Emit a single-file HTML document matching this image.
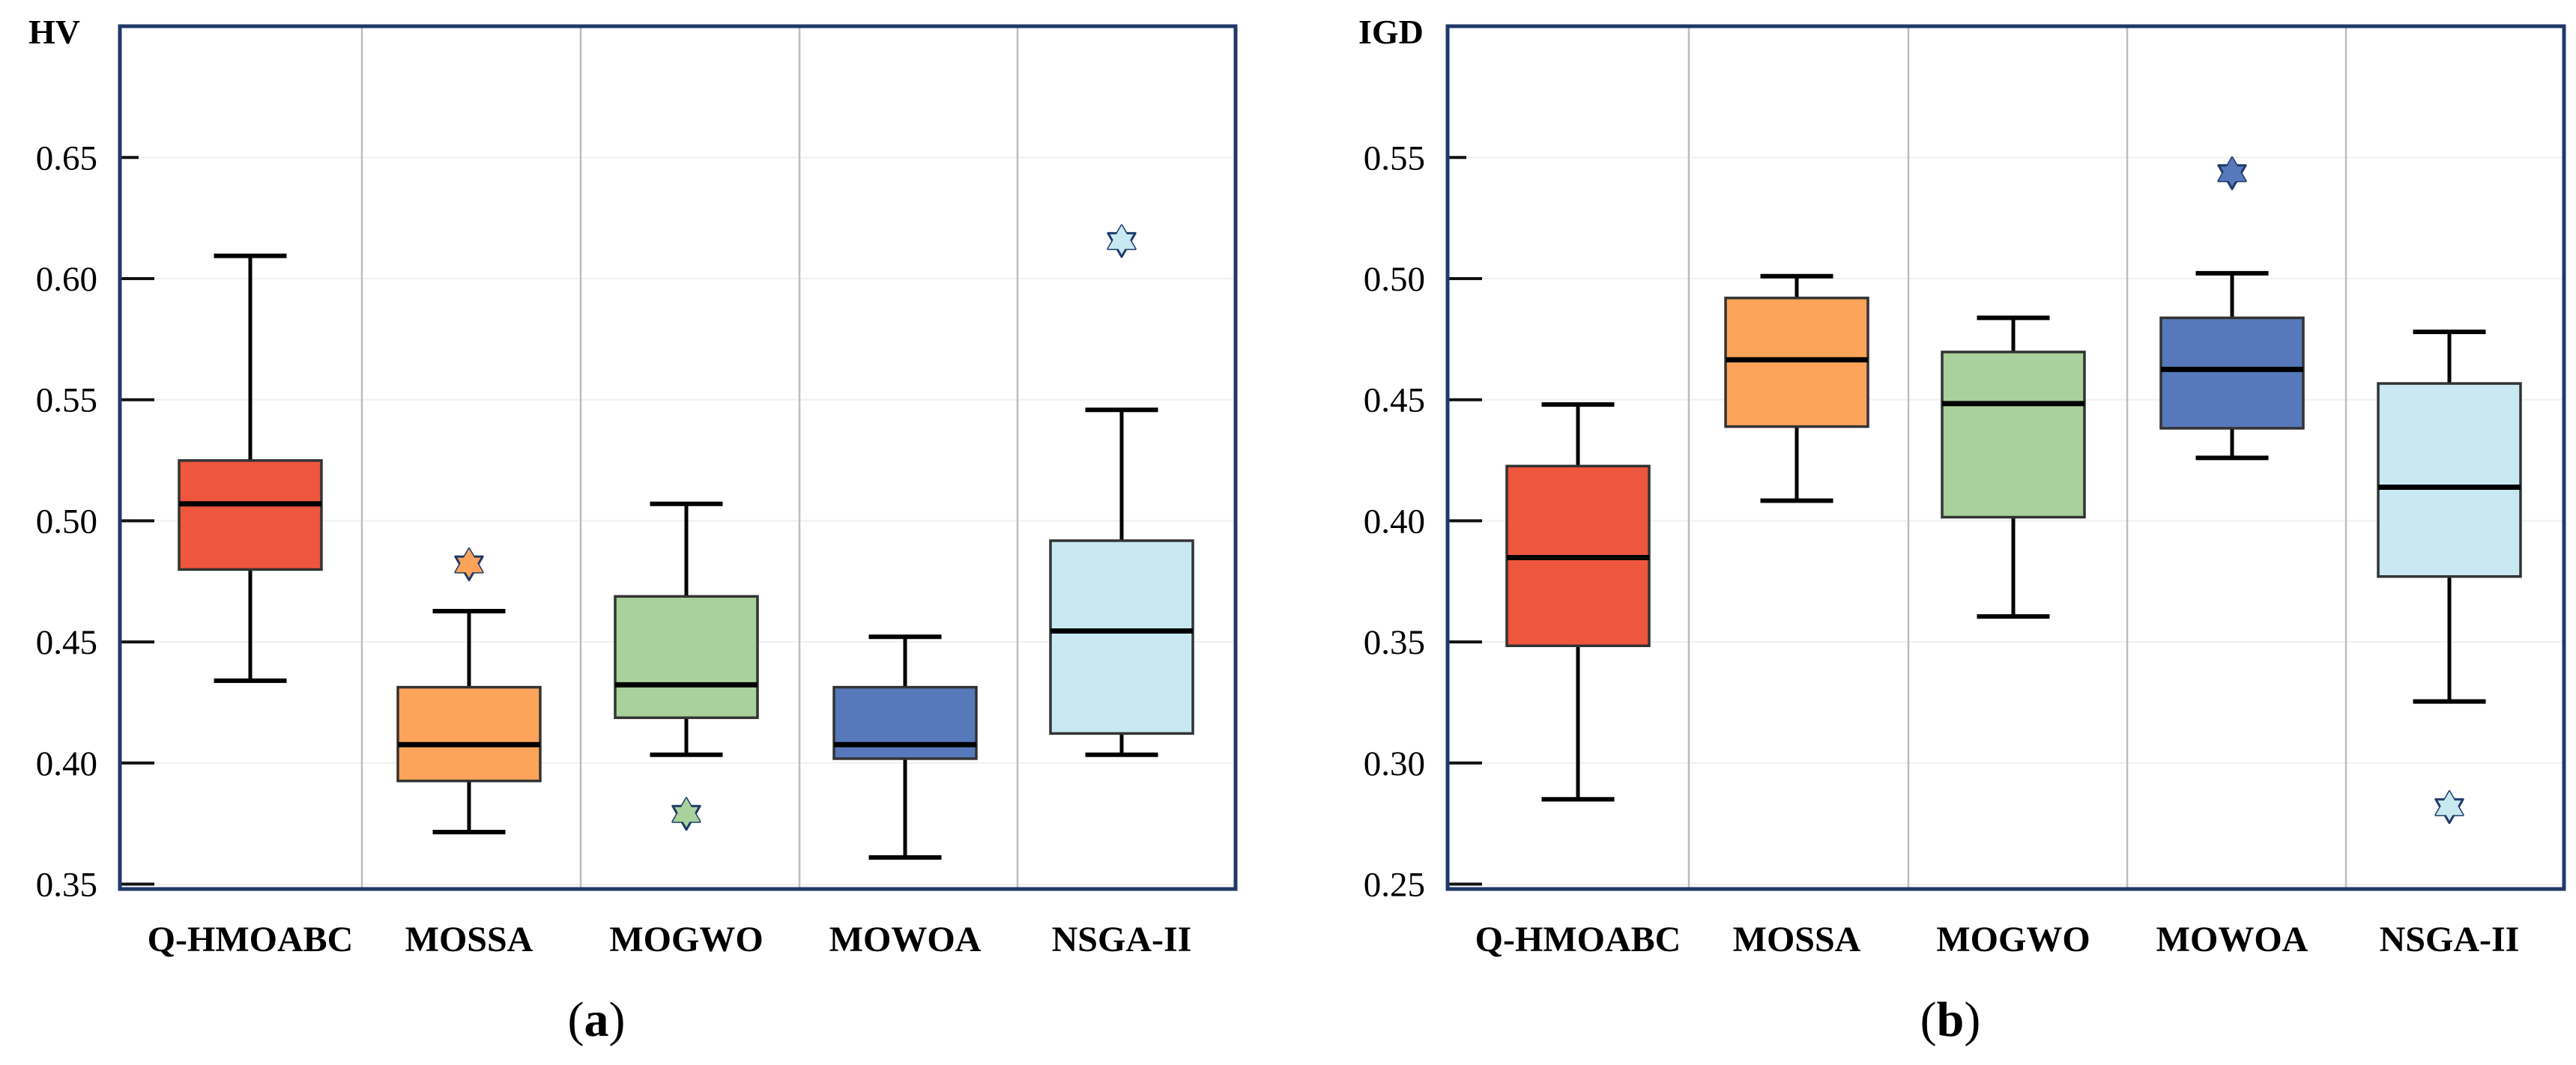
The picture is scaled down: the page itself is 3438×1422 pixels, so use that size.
<!DOCTYPE html>
<html><head><meta charset="utf-8"><style>
html,body{margin:0;padding:0;background:#fff;}
svg{display:block;}
text{font-family:"Liberation Serif",serif;fill:#000;}
</style></head><body>
<svg id="chart" width="3438" height="1422" viewBox="0 0 3438 1422" xmlns="http://www.w3.org/2000/svg"></svg>
<script>
const categories = ["Q-HMOABC","MOSSA","MOGWO","MOWOA","NSGA-II"];
const colors = ["#EE573D","#FEA35A","#A9D19B","#5778BA","#C8E9F2"];
// HV panel [low, q1, median, q3, high]
const hvLow = [0.434,0.3715,0.4034,0.361,0.4034];
const hvQ1 = [0.4799,0.3926,0.4187,0.4018,0.4122];
const hvMed = [0.507,0.4076,0.4323,0.4076,0.4545];
const hvQ3 = [0.5249,0.4313,0.4688,0.4313,0.4918];
const hvHigh = [0.6094,0.4627,0.507,0.4521,0.5458];
const hvOutliers = [[],[0.482],[0.379],[],[0.6155]];
const hvTicks = [0.35,0.40,0.45,0.50,0.55,0.60,0.65];
// IGD panel
const igdLow = [0.285,0.4083,0.3605,0.426,0.3254];
const igdQ1 = [0.3484,0.4389,0.4015,0.4382,0.377];
const igdMed = [0.3848,0.4665,0.4484,0.4625,0.4139];
const igdQ3 = [0.4226,0.492,0.4697,0.4838,0.4567];
const igdHigh = [0.448,0.501,0.4838,0.5022,0.478];
const igdOutliers = [[],[],[],[0.5435],[0.2818]];
const igdTicks = [0.25,0.30,0.35,0.40,0.45,0.50,0.55];

const NS="http://www.w3.org/2000/svg";
const svg=document.getElementById('chart');
function mk(tag,attrs,parent){const e=document.createElementNS(NS,tag);for(const k in attrs)e.setAttribute(k,attrs[k]);(parent||svg).appendChild(e);return e;}

function panel(opt){
  const g=mk('g',{});
  
  
  const L=opt.left,R=opt.right,T=35,B=1187;
  const y=v=>1018.8-(v-opt.refVal)*3234;
  const x=i=>opt.centers[i];
  opt.ticks.forEach(t=>{
    const gl=mk('line',{x1:L,x2:R,y1:y(t),y2:y(t),stroke:'#f0f0f0','stroke-width':2},g);
    
    
  });
  opt.dividers.forEach(d=>{
    const dl=mk('line',{x1:d,x2:d,y1:T,y2:B,stroke:'#bdbdbd','stroke-width':2.5},g);
    
    
  });
  opt.ticks.forEach((t,i)=>{
    const tk=mk('line',{x1:L,x2:L+(i==opt.ticks.length-1?25:46),y1:y(t),y2:y(t),stroke:'#111','stroke-width':4},g);
    
    
    const tl=mk('text',{x:L-30,y:y(t)+16,'text-anchor':'end','font-size':47},g);
    tl.textContent=t.toFixed(2);
    
    
  });
  const bw=190,cw=97;
  categories.forEach((c,i)=>{
    const bg=mk('g',{},g);
    
    
    const cx=x(i);
    mk('line',{x1:cx,x2:cx,y1:y(opt.high[i]),y2:y(opt.q3[i]),stroke:'#000','stroke-width':5},bg);
    mk('line',{x1:cx,x2:cx,y1:y(opt.q1[i]),y2:y(opt.low[i]),stroke:'#000','stroke-width':5},bg);
    mk('line',{x1:cx-cw/2,x2:cx+cw/2,y1:y(opt.high[i]),y2:y(opt.high[i]),stroke:'#000','stroke-width':6},bg);
    mk('line',{x1:cx-cw/2,x2:cx+cw/2,y1:y(opt.low[i]),y2:y(opt.low[i]),stroke:'#000','stroke-width':6},bg);
    mk('rect',{x:cx-bw/2,y:y(opt.q3[i]),width:bw,height:y(opt.q1[i])-y(opt.q3[i]),fill:colors[i],stroke:'#333','stroke-width':3.5},bg);
    mk('line',{x1:cx-bw/2,x2:cx+bw/2,y1:y(opt.med[i]),y2:y(opt.med[i]),stroke:'#000','stroke-width':7},bg);
    opt.out[i].forEach(v=>{
      const cy=y(v),r=21,pts1=[],pts2=[];
      for(let k=0;k<3;k++){const a=-Math.PI/2+k*2*Math.PI/3;pts1.push((cx+r*Math.cos(a)).toFixed(1)+','+(cy+r*Math.sin(a)).toFixed(1));
        const b=Math.PI/2+k*2*Math.PI/3;pts2.push((cx+r*Math.cos(b)).toFixed(1)+','+(cy+r*Math.sin(b)).toFixed(1));}
      const og=mk('g',{},bg);
      
      
      mk('polygon',{points:pts1.join(' '),fill:colors[i],stroke:'#1F3A68','stroke-width':3,'stroke-linejoin':'round'},og);
      mk('polygon',{points:pts2.join(' '),fill:colors[i],stroke:'#1F3A68','stroke-width':3,'stroke-linejoin':'round'},og);
      mk('polygon',{points:pts1.join(' '),fill:colors[i],stroke:'none'},og);
    });
    const xl=mk('text',{x:cx,y:1270,'text-anchor':'middle','font-size':48,'font-weight':'bold'},g);
    xl.textContent=c;
    
    
  });
  const fr=mk('rect',{x:L,y:T,width:R-L,height:B-T,fill:'none',stroke:'#1F3A68','stroke-width':5},g);
  
  
  const yt=mk('text',{x:opt.titleX,y:58,'font-size':46,'font-weight':'bold'},g);
  yt.textContent=opt.title;
  
  
  const cap=mk('text',{x:opt.capX,y:1383,'text-anchor':'middle','font-size':66},g);
  cap.innerHTML='(<tspan font-weight="bold">'+opt.cap+'</tspan>)';
  
  
}
panel({name:'hv-panel',left:160,right:1649,refVal:0.40,centers:[334,626,916,1208,1497],dividers:[483,775,1067,1358],
  ticks:hvTicks,low:hvLow,q1:hvQ1,med:hvMed,q3:hvQ3,high:hvHigh,out:hvOutliers,title:'HV',titleX:38,capX:796,cap:'a'});
panel({name:'igd-panel',left:1932,right:3422,refVal:0.30,centers:[2106,2398,2687,2979,3269],dividers:[2254,2547,2839,3131],
  ticks:igdTicks,low:igdLow,q1:igdQ1,med:igdMed,q3:igdQ3,high:igdHigh,out:igdOutliers,title:'IGD',titleX:1813,capX:2603,cap:'b'});
</script>
</body></html>
